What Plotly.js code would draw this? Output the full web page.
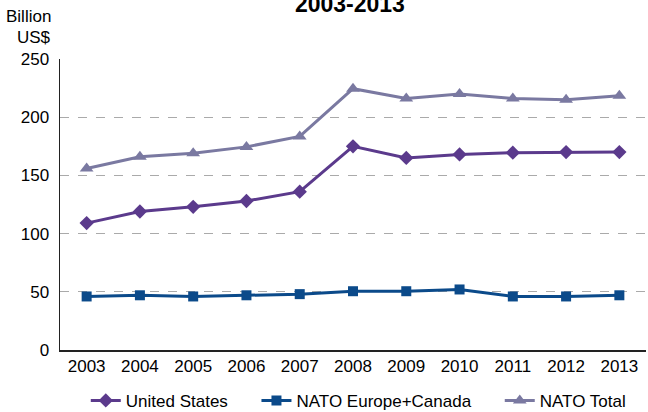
<!DOCTYPE html>
<html><head><meta charset="utf-8">
<script src="https://cdn.plot.ly/plotly-3.0.1.min.js"></script>
<style>html,body{margin:0;padding:0;background:#fff}#chart{width:648px;height:412px}</style>
</head><body><div id="chart"></div>
<script>
const years = ['2003','2004','2005','2006','2007','2008','2009','2010','2011','2012','2013'];
const unitedStates = [109, 119, 123, 128, 136, 175, 165, 168, 169.5, 170, 170];
const natoEuropeCanada = [46, 47, 46, 47, 48, 50.5, 50.5, 52, 46, 46, 47];
const natoTotal = [156, 166, 169, 174.5, 183.5, 224.5, 216, 220, 216, 215, 218.5];
const seriesNames = ['United States', 'NATO Europe+Canada', 'NATO Total'];

const pad = '\u00a0\u00a0\u00a0\u00a0\u00a0';
const font = {family: 'Liberation Sans, Arial, sans-serif', size: 17, color: '#000'};
const traces = [
  {x: years, y: unitedStates, name: seriesNames[0] + pad, type: 'scatter', mode: 'lines+markers',
   line: {color: '#5b3a8c', width: 3}, marker: {symbol: 'diamond', size: 11, color: '#5b3a8c'}},
  {x: years, y: natoEuropeCanada, name: seriesNames[1] + pad, type: 'scatter', mode: 'lines+markers',
   line: {color: '#0b4a8a', width: 3}, marker: {symbol: 'square', size: 10, color: '#0b4a8a'}},
  {x: years, y: natoTotal, name: seriesNames[2], type: 'scatter', mode: 'lines+markers',
   line: {color: '#7a79a1', width: 3}, marker: {symbol: 'triangle-up', size: 12, color: '#7a79a1'}}
];
const layout = {
  width: 648, height: 412,
  margin: {l: 60, r: 2, t: 59, b: 62, autoexpand: false},
  paper_bgcolor: '#fff', plot_bgcolor: '#fff',
  font: font,
  title: {text: '<b>2003-2013</b>', font: {family: 'Liberation Sans, Arial, sans-serif', size: 23, color: '#000'},
          x: 0.54, xanchor: 'center', y: 0.99, yanchor: 'middle', yref: 'container'},
  showlegend: true,
  legend: {orientation: 'h', x: 0.509, xanchor: 'center', y: -0.175, yanchor: 'middle',
           font: font, itemwidth: 30, tracegroupgap: 0, bgcolor: 'rgba(0,0,0,0)'},
  xaxis: {type: 'category', range: [-0.5, 10.5], showgrid: false, showline: true, linecolor: '#222', linewidth: 1.5,
          ticks: '', tickfont: font, fixedrange: true},
  yaxis: {range: [0, 250], dtick: 50, showgrid: true, gridcolor: '#aaa', griddash: 'dash', gridwidth: 1,
          showline: true, linecolor: '#222', linewidth: 1.5, ticks: '', tickfont: font, zeroline: false,
          ticklabelstandoff: 6},
  annotations: [
    {text: 'Billion', xref: 'paper', yref: 'paper', x: -0.012, y: 1 + 42.5/291, xanchor: 'right', yanchor: 'middle', showarrow: false, font: font},
    {text: 'US$', xref: 'paper', yref: 'paper', x: -0.012, y: 1 + 21.5/291, xanchor: 'right', yanchor: 'middle', showarrow: false, font: font}
  ]
};
Plotly.newPlot('chart', traces, layout, {displayModeBar: false, staticPlot: true});
</script></body></html>
